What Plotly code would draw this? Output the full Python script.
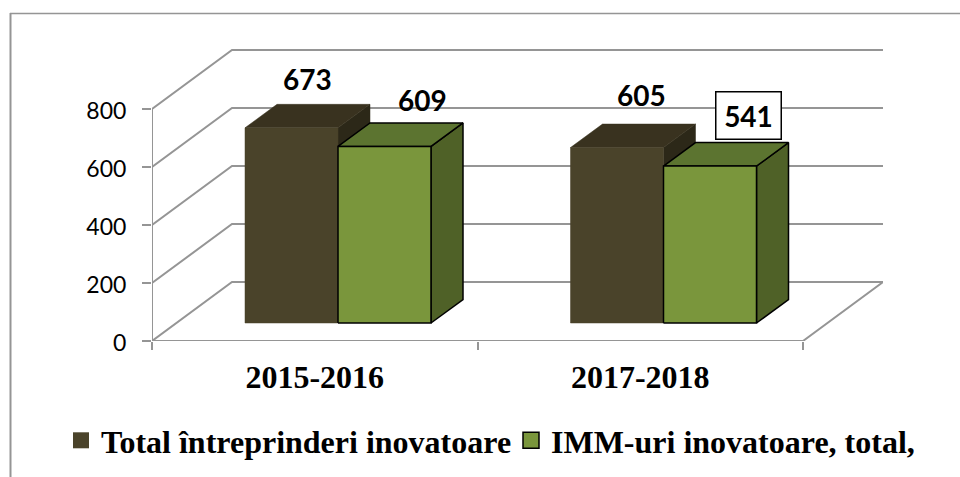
import plotly.graph_objects as go

categories = ["2015-2016", "2017-2018"]
total_values = [673, 605]
imm_values = [609, 541]
y_ticks = [0, 200, 400, 600, 800]
total_name = "Total întreprinderi inovatoare"
imm_name = "IMM-uri inovatoare, total,"

# pixels per unit, used to turn the fake 3d depth into data units
W, H = 960, 477
LEFT, RIGHT, TOP, BOTTOM = 152, 883, 48, 341
X_PX = 325.5
Y_PX = 0.29
WALL_DX, WALL_DY = 80 / X_PX, 59 / Y_PX
BAR_DX, BAR_DY = 32 / X_PX, 23.5 / Y_PX
BAR_W = 93 / X_PX
BAR_START = 93 / X_PX
FLOOR = 18 / Y_PX

GRID = "#959595"
SANS = "Lato"
SERIF = "Liberation Serif"


def poly(xs, ys, fill, line=None):
    return go.Scatter(
        x=xs + xs[:1], y=ys + ys[:1], mode="lines", fill="toself", fillcolor=fill,
        line=dict(color=line or fill, width=1.5 if line else 0.5),
        showlegend=False, hoverinfo="skip", cliponaxis=False,
    )


def bar3d(x0, value, colors, line=None):
    x1 = x0 + BAR_W
    y0 = FLOOR
    y1 = FLOOR + value
    front, top, side = colors
    return [
        poly([x1, x1 + BAR_DX, x1 + BAR_DX, x1], [y0, y0 + BAR_DY, y1 + BAR_DY, y1], side, line),
        poly([x0, x0 + BAR_DX, x1 + BAR_DX, x1], [y1, y1 + BAR_DY, y1 + BAR_DY, y1], top, line),
        poly([x0, x1, x1, x0], [y0, y0, y1, y1], front, line),
    ]


fig = go.Figure()

# walls and floor
x_end = len(categories)
for v in y_ticks:
    fig.add_trace(go.Scatter(
        x=[0, WALL_DX, x_end + WALL_DX], y=[v, v + WALL_DY, v + WALL_DY], mode="lines",
        line=dict(color=GRID, width=2), showlegend=False, hoverinfo="skip", cliponaxis=False,
    ))
fig.add_trace(go.Scatter(
    x=[0, 0, None, 0, x_end, x_end + WALL_DX], y=[y_ticks[-1], 0, None, 0, 0, WALL_DY], mode="lines",
    line=dict(color=GRID, width=2), showlegend=False, hoverinfo="skip", cliponaxis=False,
))

dark = ("#4a432a", "#39321f", "#2c2818")
green = ("#7a963c", "#5c7430", "#4f6127")
for i in range(len(categories)):
    for tr in bar3d(i + BAR_START, total_values[i], dark):
        fig.add_trace(tr)
    for tr in bar3d(i + BAR_START + BAR_W, imm_values[i], green, "#000000"):
        fig.add_trace(tr)

# legend swatches, two legends so the spacing can match
fig.add_trace(go.Scatter(x=[None], y=[None], mode="markers", name=total_name, legend="legend",
                         marker=dict(symbol="square", size=16, color=dark[0])))
fig.add_trace(go.Scatter(x=[None], y=[None], mode="markers", name=imm_name, legend="legend2",
                         marker=dict(symbol="square", size=16, color=green[0],
                                     line=dict(color="#000000", width=1.5))))

# data labels, nudged by hand as in the original
label_shift = {"total": [(16, 25), (24, 29)], "imm": [(38, 23), (38, 27)]}
for i in range(len(categories)):
    fig.add_annotation(
        x=i + BAR_START + BAR_W / 2, y=FLOOR + total_values[i] + BAR_DY, text=str(total_values[i]),
        xshift=label_shift["total"][i][0], yshift=label_shift["total"][i][1], showarrow=False,
        font=dict(family=SANS, size=28, color="#000000", weight=700),
    )
    boxed = i == 1
    fig.add_annotation(
        x=i + BAR_START + BAR_W * 1.5, y=FLOOR + imm_values[i] + BAR_DY, text=str(imm_values[i]),
        xshift=label_shift["imm"][i][0], yshift=label_shift["imm"][i][1], showarrow=False,
        font=dict(family=SANS, size=28, color="#000000", weight=700),
        bgcolor="#ffffff" if boxed else None,
        bordercolor="#000000" if boxed else None,
        borderwidth=1.5 if boxed else 0,
        width=62 if boxed else None,
        height=44 if boxed else None,
    )


def px_x(p):
    return (p - LEFT) / (RIGHT - LEFT)


def px_y(p):
    return (BOTTOM - p) / (BOTTOM - TOP)


# outer frame of the picture
fig.add_shape(type="line", xref="paper", yref="paper", x0=px_x(10.5), x1=px_x(10.5), y0=px_y(13), y1=px_y(477),
              line=dict(color=GRID, width=2))
fig.add_shape(type="line", xref="paper", yref="paper", x0=px_x(10), x1=px_x(960), y0=px_y(13.5), y1=px_y(13.5),
              line=dict(color=GRID, width=1.5))

legend_font = dict(family=SERIF, size=32, color="#000000", weight=700)

fig.update_layout(
    width=W, height=H,
    margin=dict(l=LEFT, r=W - RIGHT, t=TOP, b=H - BOTTOM, autoexpand=False),
    paper_bgcolor="#ffffff", plot_bgcolor="#ffffff",
    xaxis=dict(
        range=[0, x_end + WALL_DX], showgrid=False, zeroline=False, showline=False,
        tickmode="array", tickvals=[i + 0.5 for i in range(x_end)], ticktext=categories, ticks="",
        tickfont=dict(family=SERIF, size=32, color="#000000", weight=700),
        ticklabelstandoff=14,
        minor=dict(tickmode="array", tickvals=list(range(x_end + 1)), ticks="outside", ticklen=8,
                   tickcolor=GRID, tickwidth=1.5),
    ),
    yaxis=dict(
        range=[0, (BOTTOM - TOP) / Y_PX], showgrid=False, zeroline=False, showline=False,
        tickmode="array", tickvals=y_ticks, ticks="outside", ticklen=9, tickcolor=GRID, tickwidth=1.5,
        tickfont=dict(family=SANS, size=23, color="#000000"), ticklabelstandoff=11, ticklabelshift=2,
    ),
    legend=dict(
        orientation="h", x=px_x(61), y=px_y(413), xanchor="left", yanchor="top",
        font=legend_font, bgcolor="rgba(0,0,0,0)",
    ),
    legend2=dict(
        orientation="h", x=px_x(511), y=px_y(413), xanchor="left", yanchor="top",
        font=legend_font, bgcolor="rgba(0,0,0,0)",
    ),
    showlegend=True,
)

# the default body margin would push the whole chart 8px down and right
fig.write_html("out.html", config=dict(displayModeBar=False),
               post_script="document.body.style.margin='0';")
